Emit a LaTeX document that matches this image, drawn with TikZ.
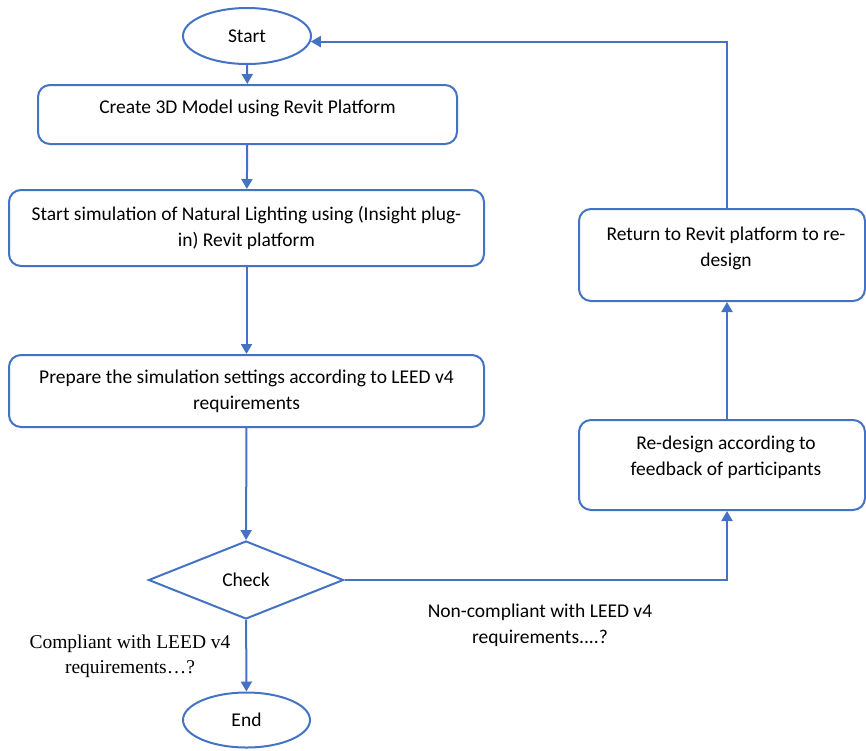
\documentclass[tikz,border=0pt]{standalone}
\usepackage{fontspec}
\setmainfont{Carlito}
\newfontfamily\timesfont{Liberation Serif}
\usetikzlibrary{shapes.geometric,arrows.meta,calc}
\definecolor{lineblue}{HTML}{4472C4}
\tikzset{
  x=1pt,y=-1pt,
  every node/.style={font=\fontsize{19.5}{26}\selectfont},
  box/.style={draw=lineblue,line width=2pt,rounded corners=12pt,align=center,inner sep=0pt},
  oval/.style={draw=lineblue,line width=2pt,ellipse,inner sep=0pt},
  decision/.style={draw=lineblue,line width=2pt,diamond,inner sep=0pt,aspect=2.5},
  conn/.style={draw=lineblue,line width=2pt,-{Triangle[length=10pt,width=11pt]}},
  lbl/.style={align=center,inner sep=0pt}
}
\begin{document}
\begin{tikzpicture}
\useasboundingbox (0,0) rectangle (866,750);
\node[oval,minimum width=128pt,minimum height=56pt] (start) at (247,36) {Start};
\node[box,minimum width=419pt,minimum height=59pt,text depth=15pt] (b1) at (247.5,114.5) {Create 3D Model using Revit Platform};
\node[box,minimum width=475pt,minimum height=76pt] (b2) at (246.5,228) {Start simulation of Natural Lighting using (Insight plug-\\in) Revit platform};
\node[box,minimum width=475pt,minimum height=72pt] (b3) at (246.5,391) {Prepare the simulation settings according to LEED v4\\requirements};
\node[decision,minimum width=195pt,minimum height=78pt] (chk) at (246,580) {Check};
\node[oval,minimum width=127pt,minimum height=55pt] (end) at (246.5,720) {End};
\node[box,minimum width=286pt,minimum height=90pt,text depth=19pt] (rd) at (722,465) {\hspace*{8pt}Re-design according to\\\hspace*{8pt}feedback of participants};
\node[box,minimum width=286pt,minimum height=92pt,text depth=17pt] (ret) at (722,255) {\hspace*{8pt}Return to Revit platform to re-\\\hspace*{8pt}design};
\node[lbl,font=\timesfont\fontsize{19.5}{25}\selectfont] (lc) at (130,656) {Compliant with LEED v4\\requirements\ldots?};
\node[lbl] (lnc) at (540,625) {Non-compliant with LEED v4\\requirements....?};
\draw[conn] (start) -- (b1);
\draw[conn] (b1) -- (b2);
\draw[conn] (b2) -- (b3);
\draw[conn] (b3) -- (chk);
\draw[conn] (chk) -- (end);
\draw[conn] (chk.east) -| ($(rd.south)+(5,0)$);
\draw[conn] ($(rd.north)+(5,0)$) -- ($(ret.south)+(5,0)$);
\draw[conn] ($(ret.north)+(5,0)$) |- (start.-5);
\end{tikzpicture}
\end{document}
